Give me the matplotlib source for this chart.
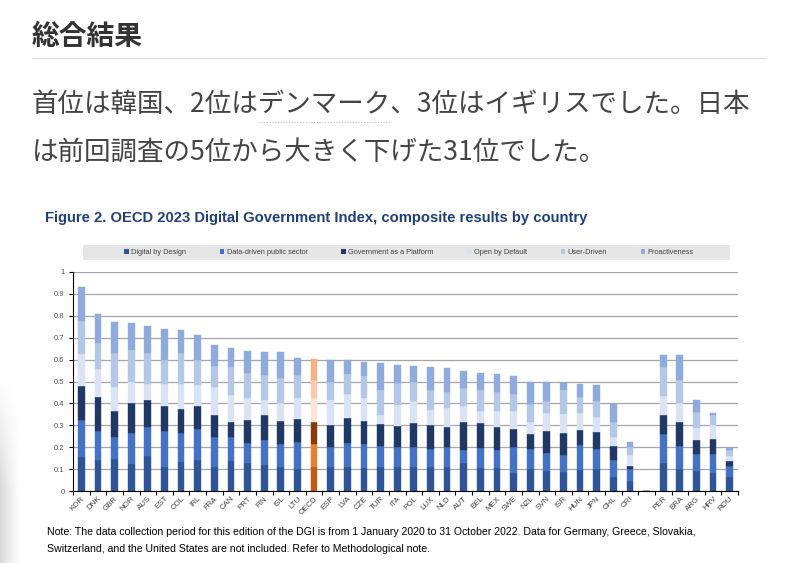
import matplotlib
matplotlib.use('Agg')
import matplotlib.pyplot as plt
import numpy as np
from matplotlib.patches import Rectangle
from matplotlib.lines import Line2D

W, H = 795, 563

countries = ["KOR", "DNK", "GBR", "NOR", "AUS", "EST", "COL", "IRL", "FRA", "CAN",
             "PRT", "FIN", "ISL", "LTU", "OECD", "ESP", "LVA", "CZE", "TUR", "ITA",
             "POL", "LUX", "NLD", "AUT", "BEL", "MEX", "SWE", "NZL", "SVN", "ISR",
             "HUN", "JPN", "CHL", "CRI", "", "PER", "BRA", "ARG", "HRV", "ROU"]

digital_by_design = [0.157, 0.142, 0.145, 0.123, 0.160, 0.111, 0.134, 0.142, 0.111, 0.137,
                     0.127, 0.119, 0.111, 0.099, 0.111, 0.111, 0.111, 0.104, 0.111, 0.108,
                     0.108, 0.108, 0.108, 0.127, 0.104, 0.104, 0.081, 0.099, 0.091, 0.088,
                     0.096, 0.099, 0.066, 0.047, 0.0, 0.127, 0.101, 0.091, 0.081, 0.066]
data_driven = [0.168, 0.134, 0.103, 0.144, 0.130, 0.162, 0.133, 0.140, 0.137, 0.108,
               0.094, 0.114, 0.104, 0.124, 0.104, 0.092, 0.107, 0.109, 0.095, 0.092,
               0.092, 0.082, 0.092, 0.061, 0.094, 0.084, 0.122, 0.092, 0.084, 0.077,
               0.114, 0.092, 0.076, 0.053, 0.0, 0.134, 0.105, 0.077, 0.088, 0.048]
gov_platform = [0.155, 0.152, 0.116, 0.137, 0.125, 0.116, 0.109, 0.108, 0.098, 0.072,
                0.101, 0.112, 0.105, 0.108, 0.102, 0.099, 0.114, 0.107, 0.100, 0.099,
                0.112, 0.112, 0.093, 0.129, 0.111, 0.106, 0.082, 0.070, 0.101, 0.099,
                0.069, 0.080, 0.064, 0.016, 0.0, 0.087, 0.107, 0.065, 0.067, 0.025]
open_by_default = [0.147, 0.130, 0.113, 0.096, 0.075, 0.101, 0.112, 0.095, 0.128, 0.122,
                   0.102, 0.071, 0.084, 0.093, 0.107, 0.114, 0.112, 0.104, 0.042, 0.094,
                   0.101, 0.068, 0.088, 0.072, 0.057, 0.073, 0.081, 0.052, 0.079, 0.088,
                   0.076, 0.066, 0.042, 0.049, 0.0, 0.086, 0.088, 0.054, 0.066, 0.021]
user_driven = [0.148, 0.120, 0.153, 0.145, 0.140, 0.106, 0.142, 0.111, 0.098, 0.127,
               0.114, 0.114, 0.111, 0.105, 0.084, 0.084, 0.091, 0.099, 0.111, 0.099,
               0.087, 0.092, 0.073, 0.081, 0.096, 0.084, 0.076, 0.085, 0.054, 0.110,
               0.073, 0.072, 0.065, 0.035, 0.0, 0.134, 0.107, 0.076, 0.043, 0.025]
proactiveness = [0.157, 0.132, 0.143, 0.123, 0.122, 0.144, 0.105, 0.116, 0.094, 0.086,
                 0.101, 0.106, 0.119, 0.078, 0.096, 0.096, 0.061, 0.067, 0.125, 0.084,
                 0.072, 0.104, 0.107, 0.076, 0.076, 0.084, 0.084, 0.102, 0.089, 0.030,
                 0.061, 0.073, 0.085, 0.023, 0.0, 0.051, 0.111, 0.053, 0.013, 0.013]

series_names = ["Digital by Design", "Data-driven public sector", "Government as a Platform",
                "Open by Default", "User-Driven", "Proactiveness"]
series_values = [digital_by_design, data_driven, gov_platform,
                 open_by_default, user_driven, proactiveness]
blue_colors = ["#2F5597", "#4472C4", "#1F3864", "#DAE3F3", "#B4C7E7", "#8FAADC"]
orange_colors = ["#C55A11", "#ED7D31", "#843C0C", "#FBE5D6", "#F8CBAD", "#F4B183"]
highlight = "OECD"

cjk = ['Noto Sans CJK JP', 'DejaVu Sans']
sans = ['Liberation Sans', 'DejaVu Sans']


def fx(x):
    return x / W


def fy(y):
    return 1 - y / H


fig = plt.figure(figsize=(W / 100, H / 100), dpi=100)
fig.patch.set_facecolor('white')

# left-edge shadow of the screenshot
sh = fig.add_axes([0, fy(563), fx(24), fy(375) - fy(563)])
grad = np.linspace(0, 1, 64)[None, :]
vert = np.clip(np.linspace(0, 1.6, 64), 0, 1)[:, None]
alpha = (1 - grad) ** 1.5 * vert * 0.16
img = np.zeros((64, 64, 4))
img[..., 3] = alpha
sh.imshow(img, aspect='auto', extent=[0, 1, 0, 1], origin='upper')
sh.axis('off')

# page heading and text
fig.text(fx(32), fy(37), "総合結果", fontsize=20, fontweight='bold', color='#333333',
         family=cjk, va='center', ha='left')
fig.add_artist(Line2D([fx(32), fx(765)], [fy(58), fy(58)], color='#DDDDDD', lw=1))
fig.text(fx(32), fy(105), "首位は韓国、2位はデンマーク、3位はイギリスでした。日本",
         fontsize=19.1, color='#444444', family=cjk, va='center', ha='left')
fig.text(fx(32), fy(152), "は前回調査の5位から大きく下げた31位でした。",
         fontsize=19.1, color='#444444', family=cjk, va='center', ha='left')
fig.add_artist(Line2D([fx(258), fx(390)], [fy(122), fy(122)], color='#BBBBBB', lw=0.8,
                      linestyle=(0, (1, 1.5))))

# chart title
fig.text(fx(45), fy(218), "Figure 2. OECD 2023 Digital Government Index, composite results by country",
         fontsize=10.6, fontweight='bold', color='#203F7C', family=sans, va='center', ha='left')

# axes
ax = fig.add_axes([fx(73), fy(491), fx(738) - fx(73), fy(272) - fy(491)])
x = np.arange(len(countries))
bottom = np.zeros(len(countries))
for i, (name, vals) in enumerate(zip(series_names, series_values)):
    vals = np.array(vals)
    cols = [orange_colors[i] if c == highlight else blue_colors[i] for c in countries]
    ax.bar(x, vals, bottom=bottom, width=0.4, color=cols, label=name,
           edgecolor=cols, linewidth=0.3)
    bottom += vals

ax.set_xlim(-0.5, len(countries) - 0.5)
ax.set_ylim(0, 1)
yt = np.round(np.arange(0, 1.01, 0.1), 1)
ax.set_yticks(yt)
ax.set_yticklabels([("%g" % v) for v in yt], fontsize=5.5, color='#505050', family=sans)
ax.yaxis.grid(True, color='#A6A6A6', lw=0.9)
ax.set_axisbelow(True)
ax.set_xticks(x)
ax.set_xticklabels(countries, rotation=45, ha='right', rotation_mode='anchor',
                   fontsize=5.7, color='#404040', family=sans)
ax.tick_params(axis='x', which='major', length=0, pad=3)
ax.set_xticks(np.arange(-0.5, len(countries), 1.0), minor=True)
ax.tick_params(axis='x', which='minor', length=3, width=0.8, color='#000000', direction='out')
ax.tick_params(axis='y', length=3, width=0.8, color='#000000', pad=3)
for s in ['top', 'right']:
    ax.spines[s].set_visible(False)
for s in ['left', 'bottom']:
    ax.spines[s].set_color('#000000')
    ax.spines[s].set_linewidth(0.8)

# legend band
fig.add_artist(Rectangle((fx(83), fy(260)), fx(730) - fx(83), fy(245) - fy(260),
                         facecolor='#E6E6E6', edgecolor='none', transform=fig.transFigure))
handles = [Rectangle((0, 0), 1, 1, facecolor=c, edgecolor='none') for c in blue_colors]
leg = fig.legend(handles, series_names, loc='center', bbox_to_anchor=(fx(409), fy(252.5)),
                 ncol=6, frameon=False, handlelength=0.6, handleheight=0.6,
                 handletextpad=0.3, columnspacing=4.6, prop={'family': sans, 'size': 5.3})
for t in leg.get_texts():
    t.set_color('#404040')

# note
fig.text(fx(47), fy(532), "Note: The data collection period for this edition of the DGI is from 1 January 2020 to 31 October 2022. Data for Germany, Greece, Slovakia,",
         fontsize=7.6, color='#000000', family=sans, va='center', ha='left')
fig.text(fx(47), fy(549), "Switzerland, and the United States are not included. Refer to Methodological note.",
         fontsize=7.6, color='#000000', family=sans, va='center', ha='left')

fig.savefig('out.png', dpi=100, facecolor='white')
